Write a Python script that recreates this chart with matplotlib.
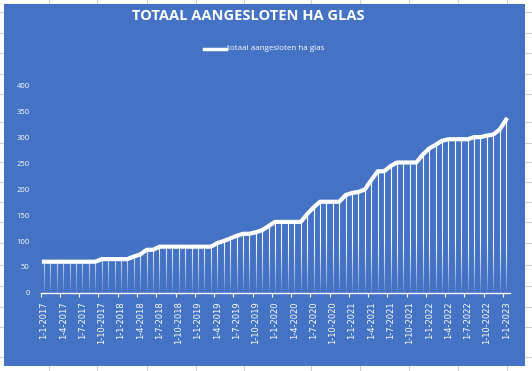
import numpy as np
import matplotlib.pyplot as plt
from matplotlib.patches import Rectangle
from matplotlib.lines import Line2D

# monthly values, 1-1-2017 .. 1-1-2023
values = [60, 60, 60, 60, 60, 60, 60, 60, 60,
          65, 65, 65, 65, 65,
          70, 74, 83, 83,
          89, 89, 89, 89, 89, 89, 89, 89, 89,
          96, 100, 105, 110, 114, 114, 117, 121, 129,
          137, 137, 137, 137, 137,
          152, 165, 176, 176, 176, 176,
          189, 193, 195, 200, 218, 235, 235, 245,
          252, 252, 252, 252,
          267, 279, 286, 294, 297, 297, 297, 297,
          301, 301, 304, 306, 316, 335]
years = [2017 + i // 12 for i in range(len(values))]
months = [1 + i % 12 for i in range(len(values))]
tick_labels = [f"1-{m}-{y}" for m, y in zip(months, years)][::3]
y_ticks = [0, 50, 100, 150, 200, 250, 300, 350, 400]

blue = '#4472C4'
W, H = 532, 371
fig = plt.figure(figsize=(W / 100, H / 100), dpi=100, facecolor='white')

# spreadsheet cells behind the chart
for gx in [48.5, 97.4, 146.6, 195.8, 244.3, 310.5, 359.7, 408.9, 458, 507]:
    fig.add_artist(Line2D([gx / W] * 2, [0, 1], color='#d0d0d0', lw=0.8, zorder=-3))
for gy in [12, 33, 53, 74, 94, 122, 143, 162, 182, 202, 222, 243, 265, 286, 307, 327, 357]:
    fig.add_artist(Line2D([0, 1], [1 - gy / H] * 2, color='#d0d0d0', lw=0.8, zorder=-3))
fig.add_artist(Rectangle((4 / W, 1 - 366 / H), 521 / W, 362 / H, zorder=-2,
                         transform=fig.transFigure, facecolor=blue, edgecolor='none'))

ax = fig.add_axes([40.7 / W, 1 - 292.7 / H, 469.3 / W, 206.7 / H])
ax.set_facecolor('none')
x = np.arange(len(values))

ax.vlines(x, 0, values, color='white', lw=0.8, zorder=1)
# fade the drop lines toward the bottom
grad_h = 110
yy = np.linspace(0, grad_h, 200)
alpha = 0.95 * (1 - yy / grad_h) ** 1.4
rgba = np.zeros((200, 1, 4))
rgba[:, 0, :3] = [0x44 / 255, 0x72 / 255, 0xC4 / 255]
rgba[:, 0, 3] = alpha
ax.imshow(rgba, extent=[-0.5, 72.6, 0, grad_h], origin='lower', aspect='auto', zorder=2)
ax.plot(x, values, color='white', lw=3, solid_joinstyle='round', zorder=3)

ax.set_xlim(-0.5, 72.6)
ax.set_ylim(0, 400)
for s in ['top', 'right', 'left']:
    ax.spines[s].set_visible(False)
ax.spines['bottom'].set_color('white')
ax.spines['bottom'].set_linewidth(1)
ax.spines['bottom'].set_zorder(4)

ax.set_xticks(x[::3])
ax.set_xticklabels(tick_labels, rotation=90, color='white', fontsize=6)
ax.set_xticks(np.arange(-0.5, 73, 3), minor=True)
ax.tick_params(axis='x', which='major', length=0, pad=6)
ax.tick_params(axis='x', which='minor', length=3, color='white', width=0.8, direction='out')

ax.set_yticks(y_ticks)
ax.set_yticklabels([str(v) for v in y_ticks], color='white', fontsize=5.5, family='Open Sans')
ax.tick_params(axis='y', length=0, pad=8)

fig.text(248 / W, 1 - 16 / H, 'TOTAAL AANGESLOTEN HA GLAS', ha='center', va='center',
         color='white', fontsize=10.5, fontweight='bold', family='Open Sans')
fig.add_artist(Line2D([203.5 / W, 225.6 / W], [1 - 48.5 / H] * 2, color='white', lw=2.5))
fig.text(226.6 / W, 1 - 48.5 / H, 'totaal aangesloten ha glas', ha='left', va='center',
         color='white', fontsize=5.8, family='Open Sans')

fig.savefig('out.png', dpi=100, facecolor='white')
